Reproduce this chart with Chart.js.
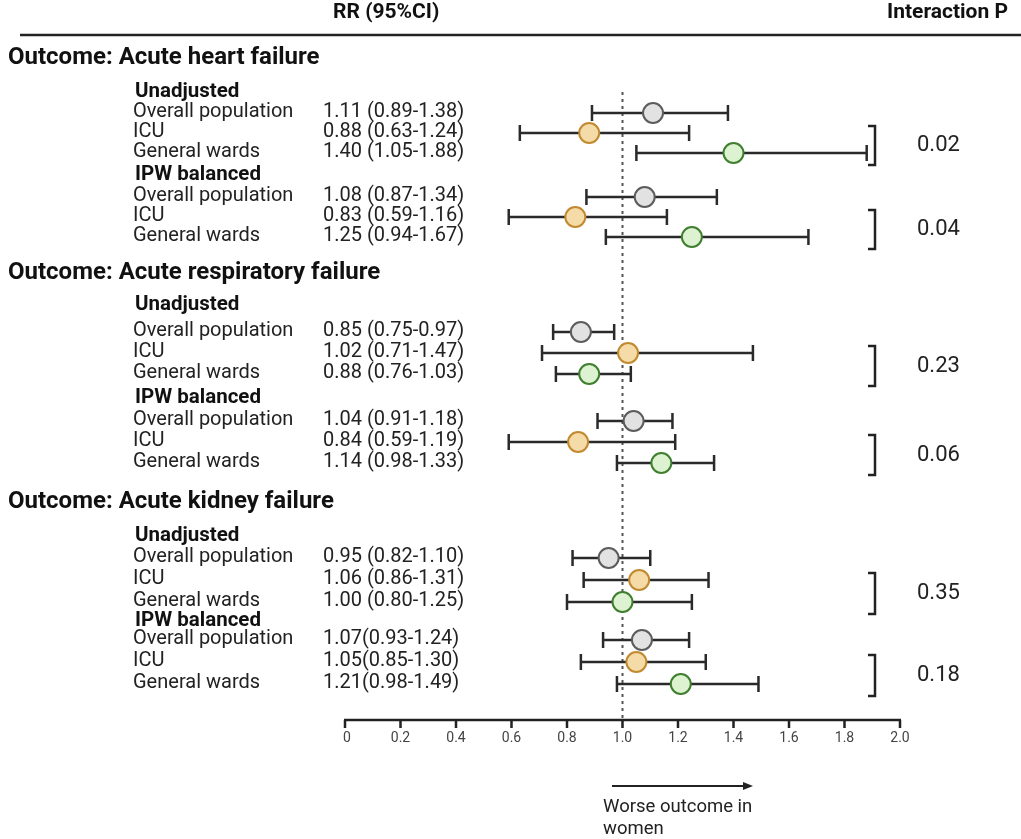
<!DOCTYPE html>
<html>
<head>
<meta charset="utf-8">
<script src="https://cdn.jsdelivr.net/npm/chart.js@4"></script>
<style>
  body { margin: 0; background: #fff; }
  canvas { display: block; }
</style>
</head>
<body>
<canvas id="forest" width="1021" height="839"></canvas>
<script>
// data
const OUTCOMES = ['Outcome: Acute heart failure', 'Outcome: Acute respiratory failure', 'Outcome: Acute kidney failure'];
const ANALYSES = ['Unadjusted', 'IPW balanced'];
const GROUPS = ['Overall population', 'ICU', 'General wards'];

// order: outcome -> analysis -> group
const RR   = [1.11, 0.88, 1.40,  1.08, 0.83, 1.25,
              0.85, 1.02, 0.88,  1.04, 0.84, 1.14,
              0.95, 1.06, 1.00,  1.07, 1.05, 1.21];
const LOW  = [0.89, 0.63, 1.05,  0.87, 0.59, 0.94,
              0.75, 0.71, 0.76,  0.91, 0.59, 0.98,
              0.82, 0.86, 0.80,  0.93, 0.85, 0.98];
const HIGH = [1.38, 1.24, 1.88,  1.34, 1.16, 1.67,
              0.97, 1.47, 1.03,  1.18, 1.19, 1.33,
              1.10, 1.31, 1.25,  1.24, 1.30, 1.49];
const P_VALUES = ['0.02', '0.04', '0.23', '0.06', '0.35', '0.18'];
const TICKS = [0, 0.2, 0.4, 0.6, 0.8, 1.0, 1.2, 1.4, 1.6, 1.8, 2.0];
const TICK_LABELS = ['0', '0.2', '0.4', '0.6', '0.8', '1.0', '1.2', '1.4', '1.6', '1.8', '2.0'];

// layout (pixels on the hidden y scale)
const BLOCKS = [
    { top: 58,  sub: 34, first: 55, step: 20, ipwSub: 22, ipwFirst: 44, sep: ' ' },
    { top: 273, sub: 32, first: 59, step: 21, ipwSub: 24, ipwFirst: 47, sep: ' ' },
    { top: 502, sub: 34, first: 56, step: 22, ipwSub: 19, ipwFirst: 38, sep: '' },
];
const FILL = ['#e2e2e2', '#f5dba8', '#ddf2d0'];
const EDGE = ['#5c5c5c', '#c28a30', '#3f7f2f'];
const FONT = 'Roboto, "Noto Sans", sans-serif';

// y position of every row, every subheader
const rowY = [], subY = [], headY = [];
BLOCKS.forEach(b => {
    headY.push(b.top);
    const r0 = b.top + b.first;
    const rows1 = [0, 1, 2].map(i => r0 + i * b.step);
    const r1 = rows1[2] + b.ipwFirst;
    const rows2 = [0, 1, 2].map(i => r1 + i * b.step);
    subY.push(b.top + b.sub, rows1[2] + b.ipwSub);
    rowY.push(...rows1, ...rows2);
});

function ciText(i) {
    const b = BLOCKS[Math.floor(i / 6)];
    const sep = (i % 6) >= 3 ? b.sep : ' ';
    return RR[i].toFixed(2) + sep + '(' + LOW[i].toFixed(2) + '-' + HIGH[i].toFixed(2) + ')';
}

const forestPlugin = {
    id: 'forest',
    beforeDatasetsDraw(chart) {
        const ctx = chart.ctx;
        const xs = chart.scales.x, ys = chart.scales.y;
        ctx.save();
        // header
        ctx.fillStyle = '#111';
        ctx.font = 'bold 21px ' + FONT;
        ctx.textBaseline = 'middle';
        ctx.textAlign = 'left';
        ctx.fillText('RR (95%CI)', 333, 13);
        ctx.textAlign = 'right';
        ctx.fillText('Interaction P', 1008, 13);
        ctx.textAlign = 'left';
        ctx.strokeStyle = '#222';
        ctx.lineWidth = 2.5;
        ctx.beginPath();
        ctx.moveTo(20, 35); ctx.lineTo(1021, 35);
        ctx.stroke();

        // reference line at RR = 1
        const x1 = xs.getPixelForValue(1);
        ctx.strokeStyle = '#555';
        ctx.lineWidth = 2;
        ctx.setLineDash([3, 4]);
        ctx.beginPath();
        ctx.moveTo(x1, ys.getPixelForValue(92)); ctx.lineTo(x1, ys.getPixelForValue(720));
        ctx.stroke();
        ctx.setLineDash([]);

        // texts
        OUTCOMES.forEach((t, k) => {
            ctx.font = 'bold 24px ' + FONT;
            ctx.fillStyle = '#111';
            ctx.fillText(t, 8, ys.getPixelForValue(headY[k]));
        });
        subY.forEach((y, k) => {
            ctx.font = 'bold 20.5px ' + FONT;
            ctx.fillStyle = '#111';
            ctx.fillText(ANALYSES[k % 2], 135, ys.getPixelForValue(y));
        });
        rowY.forEach((y, i) => {
            const py = ys.getPixelForValue(y) - 1;
            ctx.font = '20px ' + FONT;
            ctx.fillStyle = '#222';
            ctx.fillText(GROUPS[i % 3], 133, py);
            ctx.fillText(ciText(i), 323, py);
            // error bar
            const a = xs.getPixelForValue(LOW[i]), b = xs.getPixelForValue(HIGH[i]);
            const cy = ys.getPixelForValue(y);
            ctx.strokeStyle = '#2a2a2a';
            ctx.lineWidth = 2.5;
            ctx.beginPath();
            ctx.moveTo(a, cy); ctx.lineTo(b, cy);
            ctx.moveTo(a, cy - 8); ctx.lineTo(a, cy + 8);
            ctx.moveTo(b, cy - 8); ctx.lineTo(b, cy + 8);
            ctx.stroke();
        });

        // interaction brackets
        P_VALUES.forEach((p, k) => {
            const yTop = ys.getPixelForValue(rowY[k * 3 + 1]) - 7;
            const yBot = ys.getPixelForValue(rowY[k * 3 + 2]) + 12;
            ctx.strokeStyle = '#222';
            ctx.lineWidth = 2.5;
            ctx.beginPath();
            ctx.moveTo(868, yTop); ctx.lineTo(875, yTop); ctx.lineTo(875, yBot); ctx.lineTo(868, yBot);
            ctx.stroke();
            ctx.font = '22px ' + FONT;
            ctx.fillStyle = '#222';
            ctx.fillText(p, 917, (yTop + yBot) / 2);
        });

        // x axis
        const ay = ys.getPixelForValue(720);
        ctx.strokeStyle = '#222';
        ctx.lineWidth = 2.5;
        ctx.beginPath();
        ctx.moveTo(xs.getPixelForValue(0) - 1, ay); ctx.lineTo(xs.getPixelForValue(2) + 1, ay);
        TICKS.forEach(t => {
            const tx = xs.getPixelForValue(t);
            ctx.moveTo(tx, ay); ctx.lineTo(tx, ay + 8);
        });
        ctx.stroke();
        ctx.font = '14px ' + FONT;
        ctx.fillStyle = '#444';
        ctx.textAlign = 'center';
        TICKS.forEach((t, k) => {
            ctx.fillText(TICK_LABELS[k], xs.getPixelForValue(t) + (k === 0 ? 2 : 0), ay + 18);
        });

        // arrow
        ctx.strokeStyle = '#222';
        ctx.fillStyle = '#222';
        ctx.lineWidth = 2;
        ctx.beginPath();
        ctx.moveTo(612, 786); ctx.lineTo(746, 786);
        ctx.stroke();
        ctx.beginPath();
        ctx.moveTo(753, 786); ctx.lineTo(743, 782); ctx.lineTo(743, 790); ctx.closePath();
        ctx.fill();
        ctx.textAlign = 'left';
        ctx.font = '18.5px ' + FONT;
        ctx.fillText('Worse outcome in', 603, 807);
        ctx.fillText('women', 603, 829);
        ctx.restore();
    }
};

const datasets = GROUPS.map((g, gi) => ({
    label: g,
    data: rowY.map((y, i) => ({ x: RR[i], y: y })).filter((d, i) => i % 3 === gi),
    pointRadius: 10,
    pointHoverRadius: 10,
    pointBackgroundColor: FILL[gi],
    pointBorderColor: EDGE[gi],
    pointBorderWidth: 2,
    showLine: false,
}));

new Chart(document.getElementById('forest'), {
    type: 'scatter',
    data: { datasets },
    options: {
        responsive: false,
        devicePixelRatio: 1,
        animation: false,
        layout: { autoPadding: false, padding: { left: 345, right: 121, top: 0, bottom: 0 } },
        plugins: { legend: { display: false }, tooltip: { enabled: false } },
        scales: {
            x: { type: 'linear', min: 0, max: 2, display: false },
            y: { type: 'linear', min: 0, max: 839, reverse: true, display: false },
        },
    },
    plugins: [forestPlugin],
});
</script>
</body>
</html>
